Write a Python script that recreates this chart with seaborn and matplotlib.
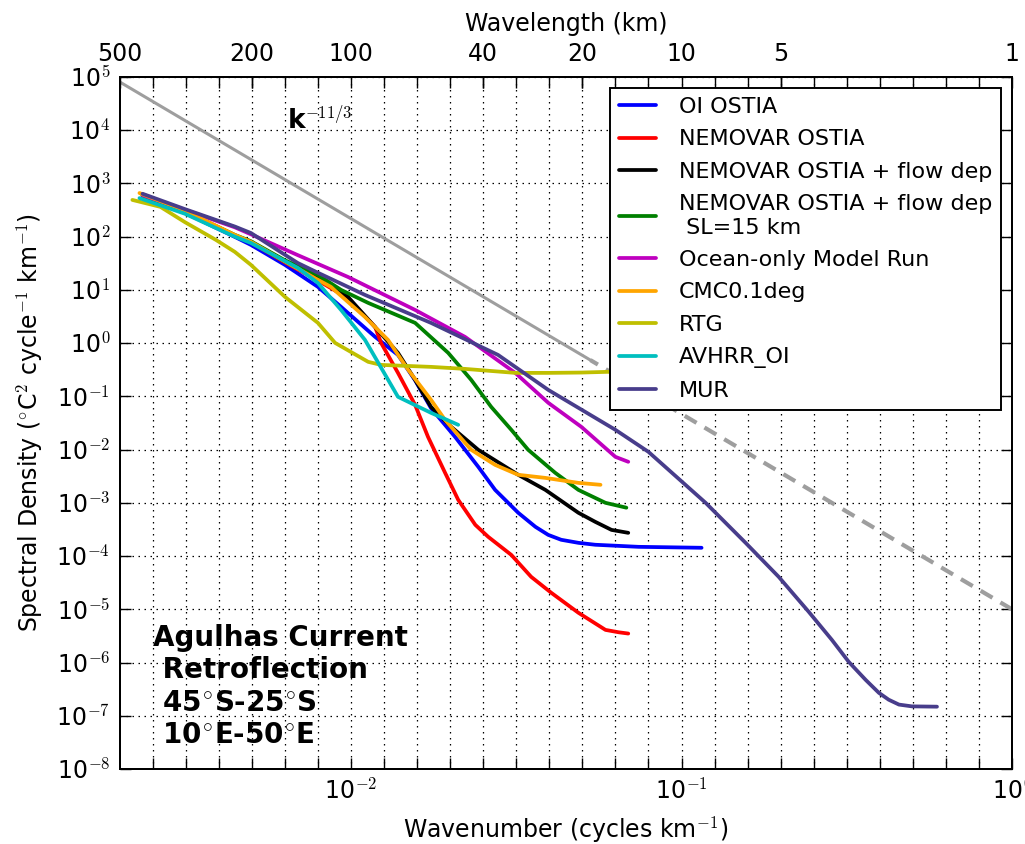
import numpy as np
import matplotlib
matplotlib.use("Agg")
import matplotlib.pyplot as plt
import seaborn as sns
from matplotlib.ticker import FixedLocator, NullLocator, FixedFormatter, NullFormatter, FuncFormatter

# ---------------- data ----------------
oi_k = [0.00234, 0.00314, 0.00445, 0.00498, 0.00631, 0.00794, 0.00933, 0.01183, 0.01387, 0.01563,
        0.01746, 0.02065, 0.02427, 0.02729, 0.03206, 0.03614, 0.0395, 0.04325, 0.0488, 0.05483,
        0.0741, 0.115]
oi_s = [560, 280, 99, 70, 29.5, 11.4, 4.8, 1.31, 0.6, 0.2,
        0.06, 0.0173, 0.00474, 0.00175, 6.5e-4, 3.54e-4, 2.5e-4, 2.02e-4, 1.77e-4, 1.63e-4,
        1.49e-4, 1.43e-4]

nemo_k = [0.00234, 0.00314, 0.00445, 0.00498, 0.00631, 0.00794, 0.00979, 0.01183, 0.01233, 0.01387,
          0.01563, 0.0171, 0.01926, 0.0211, 0.02377, 0.026, 0.03055, 0.03508, 0.04036, 0.04875,
          0.05888, 0.0645, 0.069]
nemo_s = [600, 300, 105, 78, 33, 15, 7.0, 2.0, 1.01, 0.276,
          0.069, 0.0173, 0.00366, 0.00114, 3.86e-4, 2.3e-4, 1.05e-4, 4.07e-5, 2.04e-5, 8.6e-6,
          4.1e-6, 3.7e-6, 3.5e-6]

flow_k = [0.00234, 0.00314, 0.00445, 0.00498, 0.00631, 0.00794, 0.00979, 0.01183, 0.01387, 0.01563,
          0.01746, 0.0201, 0.02427, 0.03206, 0.03873, 0.04875, 0.0548, 0.0614, 0.069]
flow_s = [610, 300, 105, 80, 34, 17.5, 7.4, 2.0, 0.656, 0.204,
          0.0635, 0.0267, 0.00989, 0.00336, 0.00175, 6.5e-4, 4.4e-4, 3.1e-4, 2.73e-4]

sl15_k = [0.00234, 0.00314, 0.00445, 0.00498, 0.00631, 0.00794, 0.00933, 0.01127, 0.01563, 0.01968,
          0.0231, 0.02655, 0.03055, 0.03436, 0.04149, 0.04875, 0.05888, 0.0681]
sl15_s = [600, 300, 108, 82, 36, 19.1, 10, 5.7, 2.4, 0.656,
          0.204, 0.0635, 0.0235, 0.0099, 0.00366, 0.00175, 0.001, 8.1e-4]

ocean_k = [0.00234, 0.00314, 0.00445, 0.00488, 0.0069, 0.00979, 0.01563, 0.02213, 0.0314, 0.03954,
           0.04977, 0.0631, 0.069]
ocean_s = [600, 320, 150, 117, 45, 17.5, 4.2, 1.31, 0.276, 0.0755,
           0.0267, 0.0073, 0.0059]

cmc_k = [0.00229, 0.00314, 0.00445, 0.00498, 0.00631, 0.00869, 0.01102, 0.01294, 0.01489, 0.01746,
         0.01926, 0.0231, 0.02729, 0.03206, 0.03873, 0.04875, 0.05687]
cmc_s = [660, 310, 108, 80, 34, 11.4, 3.1, 1.15, 0.315, 0.086,
         0.036, 0.0099, 0.00516, 0.00336, 0.00294, 0.00237, 0.00218]

rtg_k = [0.00218, 0.00265, 0.00314, 0.0039, 0.00445, 0.00498, 0.00631, 0.00794, 0.00895, 0.01127,
         0.01233, 0.01746, 0.02213, 0.0314, 0.03954, 0.04977, 0.0614, 0.069]
rtg_s = [490, 363, 188, 87, 51.8, 29.5, 7.4, 2.4, 1.01, 0.445,
         0.39, 0.358, 0.328, 0.276, 0.276, 0.28, 0.29, 0.29]

avhrr_k = [0.00229, 0.00314, 0.00445, 0.00498, 0.0069, 0.00794, 0.00933, 0.01102, 0.01387, 0.01746, 0.0211]
avhrr_s = [530, 270, 100, 76, 25.9, 13.5, 4.2, 1.15, 0.098, 0.049, 0.0292]

mur_k = [0.00234, 0.00314, 0.00445, 0.00498, 0.0069, 0.00794, 0.01102, 0.01746, 0.02786, 0.03954,
         0.0631, 0.0794, 0.1183, 0.1563, 0.1968, 0.2425, 0.285, 0.3206, 0.361, 0.3954,
         0.4236, 0.455, 0.498, 0.593]
mur_s = [640, 330, 155, 117, 32, 21, 8.05, 2.4, 0.60, 0.132,
         0.0235, 0.00908, 0.001, 1.77e-4, 4.07e-5, 9e-6, 2.67e-6, 1.03e-6, 4.7e-7, 2.7e-7,
         2.0e-7, 1.62e-7, 1.5e-7, 1.48e-7]

# k^(-11/3) reference line (solid part then dashed part)
ref_k = [0.002, 0.053, 1.0]
ref_s = [8.0e4, 0.48, 1.0e-5]

series_names = ["OI OSTIA", "NEMOVAR OSTIA", "NEMOVAR OSTIA + flow dep",
                "NEMOVAR OSTIA + flow dep\n SL=15 km", "Ocean-only Model Run",
                "CMC0.1deg", "RTG", "AVHRR_OI", "MUR"]
series_colors = ["#0000ff", "#ff0000", "#000000", "#008000", "#bf00bf",
                 "#ffa500", "#bfbf00", "#00bfbf", "#483d8b"]

wavelength_labels = [500, 200, 100, 40, 20, 10, 5, 1]
x_decades = [1e-2, 1e-1, 1e0]
y_decades = [10.0 ** e for e in range(-8, 6)]

# ---------------- style ----------------
sns.set_style("white")
plt.rcParams["font.family"] = ["DejaVu Sans"]
plt.rcParams["mathtext.fontset"] = "cm"
for key in ["text.color", "axes.labelcolor", "xtick.color", "ytick.color", "axes.edgecolor"]:
    plt.rcParams[key] = "black"

fig = plt.figure(figsize=(10.25, 8.44), dpi=100)
ax = fig.add_axes([0.1171, 0.0889, 0.8702, 0.8199])

# reference slope line
sns.lineplot(x=ref_k[:2], y=ref_s[:2], ax=ax, color="0.62", lw=2.2, sort=False, estimator=None)
sns.lineplot(x=ref_k[1:], y=ref_s[1:], ax=ax, color="0.62", lw=3.0, sort=False, estimator=None,
             linestyle=(1.2, (3.3, 2.2)))

data = [(oi_k, oi_s), (nemo_k, nemo_s), (flow_k, flow_s), (sl15_k, sl15_s), (ocean_k, ocean_s),
        (cmc_k, cmc_s), (rtg_k, rtg_s), (avhrr_k, avhrr_s), (mur_k, mur_s)]
for (kk, ss), name, col in zip(data, series_names, series_colors):
    sns.lineplot(x=kk, y=ss, ax=ax, color=col, lw=2.7, label=name, sort=False, estimator=None)

ax.set_xscale("log")
ax.set_yscale("log")
ax.set_xlim(0.002, 1.0)
ax.set_ylim(1e-8, 1e5)

grid_ticks = 10.0 ** (np.arange(-27, 1) / 10.0)

def sci(v, p):
    return r"$\mathdefault{10}^{%d}$" % int(round(np.log10(v)))

ax.xaxis.set_major_locator(FixedLocator(x_decades))
ax.xaxis.set_major_formatter(FuncFormatter(sci))
ax.xaxis.set_minor_locator(FixedLocator(grid_ticks))
ax.xaxis.set_minor_formatter(NullFormatter())
ax.yaxis.set_major_locator(FixedLocator(y_decades))
ax.yaxis.set_major_formatter(FuncFormatter(sci))
ax.yaxis.set_minor_locator(NullLocator())

ax.tick_params(which="both", direction="in", length=8, width=1, colors="k",
               top=False, right=True, bottom=True, left=True)
ax.tick_params(axis="x", which="major", labelsize=17, pad=7)
ax.tick_params(axis="y", which="major", labelsize=17, pad=7)

grid_kw = dict(color="k", linestyle=(0, (1.2, 3.6)), linewidth=0.9)
ax.grid(True, which="both", axis="x", **grid_kw)
ax.grid(True, which="major", axis="y", **grid_kw)

for sp in ax.spines.values():
    sp.set_color("k")
    sp.set_linewidth(1.4)

ax.set_xlabel(r"Wavenumber (cycles km$^{-1}$)", fontsize=17, labelpad=8)
ax.set_ylabel(r"Spectral Density ($^{\circ}$C$^{2}$ cycle$^{-1}$ km$^{-1}$)", fontsize=17, labelpad=8)

# top axis: wavelength
ax2 = ax.twiny()
ax2.set_xscale("log")
ax2.set_xlim(ax.get_xlim())
ax2.xaxis.set_major_locator(FixedLocator([1.0 / w for w in wavelength_labels]))
ax2.xaxis.set_major_formatter(FixedFormatter([str(w) for w in wavelength_labels]))
ax2.xaxis.set_minor_locator(FixedLocator(grid_ticks))
ax2.xaxis.set_minor_formatter(NullFormatter())
ax2.tick_params(which="both", direction="in", length=8, width=1, colors="k")
ax2.tick_params(axis="x", which="major", labelsize=17, pad=8)
ax2.grid(False)
ax2.set_xlabel("Wavelength (km)", fontsize=17, labelpad=8)
for sp in ax2.spines.values():
    sp.set_color("k")
    sp.set_linewidth(1.4)

# legend
handles, labels = ax.get_legend_handles_labels()
leg = ax2.legend(handles, labels, loc="upper right", fontsize=16, frameon=True, fancybox=False,
                 edgecolor="k", framealpha=1, handlelength=1.7, handletextpad=1.0,
                 borderpad=0.4, labelspacing=0.56, borderaxespad=0.5)
leg.get_frame().set_linewidth(1.4)
if ax.get_legend() is not None:
    ax.get_legend().remove()

# annotations
ax.text(0.188, 0.926, "k", transform=ax.transAxes, fontsize=19, fontweight="bold",
        va="baseline", ha="left", color="k")
ax.text(0.2074, 0.9408, r"$-11/3$", transform=ax.transAxes, fontsize=12,
        va="baseline", ha="left", color="k")
ax.text(0.037, 0.2095,
        "Agulhas Current\n Retroflection\n 45$^{\\circ}$S-25$^{\\circ}$S\n 10$^{\\circ}$E-50$^{\\circ}$E",
        transform=ax.transAxes, fontsize=20, fontweight="bold", va="top", ha="left",
        linespacing=1.2, color="k")

fig.savefig("out.png", dpi=100)
